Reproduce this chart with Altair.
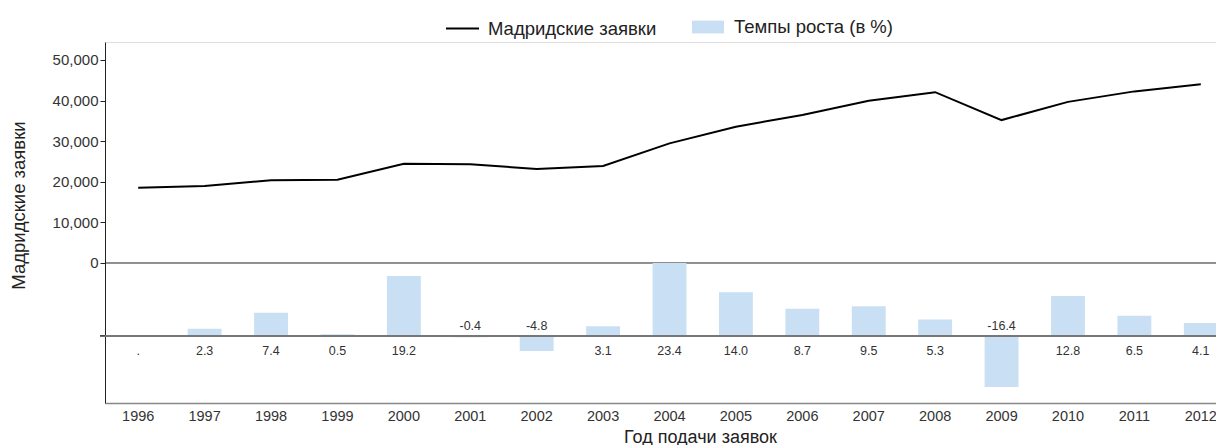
import altair as alt
import pandas as pd

years = [str(y) for y in range(1996, 2013)]
applications = [18560, 18990, 20390, 20490, 24430, 24330, 23160, 23880, 29470,
                33570, 36470, 39950, 42080, 35200, 39690, 42270, 44020]
growth = [None, 2.3, 7.4, 0.5, 19.2, -0.4, -4.8, 3.1, 23.4, 14.0, 8.7, 9.5,
          5.3, -16.4, 12.8, 6.5, 4.1]
growth_labels = [".", "2.3", "7.4", "0.5", "19.2", "-0.4", "-4.8", "3.1", "23.4",
                 "14.0", "8.7", "9.5", "5.3", "-16.4", "12.8", "6.5", "4.1"]

LINE_NAME = "Мадридские заявки"
BAR_NAME = "Темпы роста (в %)"

df = pd.DataFrame({
    "year": years,
    "apps": applications,
    "growth": growth,
    "label": growth_labels,
    "sign": ["neg" if (g is not None and g < 0) else "pos" for g in growth],
    "s_line": LINE_NAME,
    "s_bar": BAR_NAME,
})

FONT = "Liberation Sans"
W, H = 1111, 361
XRANGE = 1129

x = alt.X("year:O", sort=years,
          scale=alt.Scale(type="band", paddingInner=0.49, paddingOuter=0.245,
                          range=[0, XRANGE]),
          axis=alt.Axis(title="Год подачи заявок", labelAngle=0, ticks=False, tickSize=0,
                        labelPadding=6, labelFontSize=14.5, labelColor="#333",
                        labelFont=FONT, domainColor="#888", domainWidth=1.5,
                        titleFont=FONT, titleFontSize=18, titleFontWeight="normal",
                        titleColor="#222", titleX=595, titleY=39,
                        titleBaseline="alphabetic"))

y_scale_top = alt.Scale(domain=[-34483, 54433], nice=False, zero=False)
y_axis_top = alt.Axis(title="Мадридские заявки", values=[0, 10000, 20000, 30000, 40000, 50000],
                      format=",.0f", grid=False, tickSize=5, tickColor="#222",
                      domainColor="#222", labelFontSize=15, labelColor="#333",
                      labelFont=FONT, labelPadding=2,
                      titleFont=FONT, titleFontSize=18.5, titleFontWeight="normal",
                      titleColor="#222", titleX=-87, titleY=163, titleAngle=-90,
                      titleBaseline="middle", titleAlign="center")

base = alt.Chart(df)

line = base.mark_line(color="black", strokeWidth=2).encode(
    x=x,
    y=alt.Y("apps:Q", scale=y_scale_top, axis=y_axis_top),
    stroke=alt.Stroke("s_line:N", scale=alt.Scale(domain=[LINE_NAME], range=["black"]),
                      legend=alt.Legend(title=None, orient="none", legendX=340, legendY=-31,
                                        symbolType="stroke", symbolSize=1089,
                                        symbolStrokeWidth=2, labelFontSize=18.5,
                                        labelLimit=400,
                                        labelFont=FONT, labelColor="#222", labelOffset=8)),
)

zero_rule = alt.Chart(pd.DataFrame({"apps": [0]})).mark_rule(color="#222", strokeWidth=1).encode(
    y=alt.Y("apps:Q", scale=y_scale_top, axis=y_axis_top)
)

top = alt.layer(line, zero_rule)

y_scale_bot = alt.Scale(domain=[-21.5, 94.2], nice=False, zero=False)

bars = base.mark_bar(color="#c9dff4").transform_filter("datum.growth != null").encode(
    x=x,
    y=alt.Y("growth:Q", scale=y_scale_bot, axis=None),
    fill=alt.Fill("s_bar:N", scale=alt.Scale(domain=[BAR_NAME], range=["#c9dff4"]),
                  legend=alt.Legend(title=None, orient="none", legendX=587, legendY=-31,
                                    symbolType="M-1,-0.4H1V0.4H-1Z", symbolSize=1024,
                                    symbolStrokeWidth=0, labelFontSize=18.5,
                                    labelLimit=400,
                                    labelFont=FONT, labelColor="#222", labelOffset=10)),
)

zdf = pd.DataFrame({"growth": [0]})
base_rule = alt.Chart(zdf).mark_rule(color="#777", strokeWidth=2).encode(
    y=alt.Y("growth:Q", scale=y_scale_bot, axis=None)
)
base_tick = alt.Chart(zdf).mark_rule(color="#222", strokeWidth=1.5).encode(
    y=alt.Y("growth:Q", scale=y_scale_bot, axis=None), x=alt.value(-5), x2=alt.value(0)
)

pos_text = base.transform_filter("datum.sign == 'pos'").transform_calculate(zero="0").mark_text(
    fontSize=12.5, font=FONT, color="#333", dy=15, baseline="middle").encode(
    x=x, y=alt.Y("zero:Q", scale=y_scale_bot, axis=None), text="label:N")
neg_text = base.transform_filter("datum.sign == 'neg'").transform_calculate(zero="0").mark_text(
    fontSize=12.5, font=FONT, color="#333", dy=-10, baseline="middle").encode(
    x=x, y=alt.Y("zero:Q", scale=y_scale_bot, axis=None), text="label:N")

bottom = alt.layer(bars, base_rule, base_tick, pos_text, neg_text)

chart = alt.layer(top, bottom).resolve_scale(
    y="independent", stroke="independent", fill="independent"
).properties(
    width=W, height=H,
    autosize=alt.AutoSizeParams(type="none"),
    padding={"left": 97, "top": 34, "right": 0, "bottom": 42},
).configure_view(stroke=None).configure(font=FONT)

chart.save("out.html", embed_options={"renderer": "svg", "actions": False})
